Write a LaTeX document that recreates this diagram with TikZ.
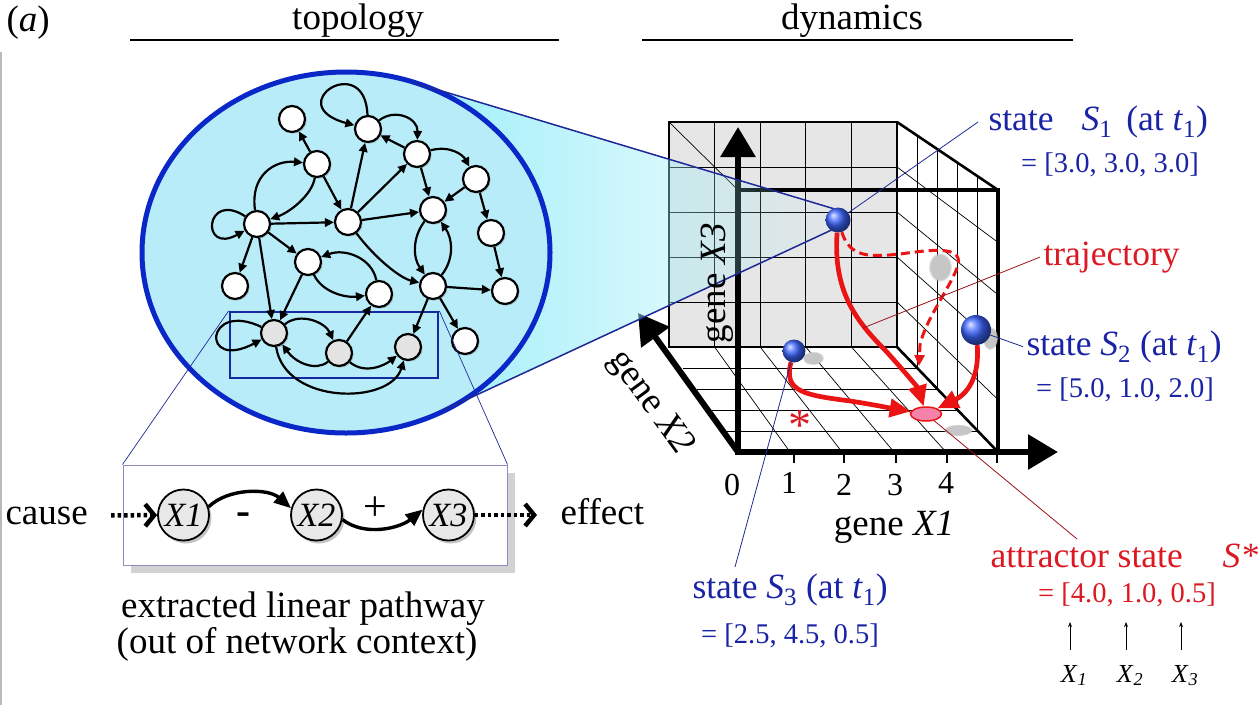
\documentclass[tikz,border=0pt]{standalone}
\usepackage{fontspec}
\setmainfont{Liberation Serif}
\usetikzlibrary{arrows.meta,shadows,fadings,shapes.geometric}
\definecolor{netfill}{RGB}{184,236,248}
\definecolor{netblue}{RGB}{10,40,200}
\definecolor{netrect}{RGB}{20,40,160}
\definecolor{conel}{RGB}{30,40,150}
\definecolor{lblue}{RGB}{25,35,165}
\definecolor{lred}{RGB}{220,25,35}
\definecolor{trajc}{RGB}{235,20,20}
\definecolor{ballc}{RGB}{60,100,255}
\definecolor{boxc}{RGB}{140,140,190}
\definecolor{backc}{RGB}{230,230,230}
\definecolor{attc}{RGB}{245,130,170}
\tikzfading[name=conefade, left color=transparent!0, right color=transparent!100]
\tikzset{axtip/.tip={Triangle[length=30pt,width=34pt]}}
\newcommand\fmain{\fontsize{37}{44}\selectfont}
\newcommand\fdig{\fontsize{32}{38}\selectfont}
\newcommand\flab{\fontsize{35.5}{40}\selectfont}
\newcommand\fvec{\fontsize{28.5}{32}\selectfont}
\newcommand\fxs{\fontsize{26}{30}\selectfont}
\newcommand\fnod{\fontsize{34}{38}\selectfont\itshape}
\newcommand\fsign{\fontsize{42}{46}\selectfont}
\begin{document}
\begin{tikzpicture}[x=1pt,y=-1pt,
  net/.style={circle,draw,line width=2.2pt,fill=white,minimum size=26pt,inner sep=0pt,
    drop shadow={shadow xshift=1.6pt,shadow yshift=-1.6pt,opacity=.35}},
  gnet/.style={net,fill=gray!22},
  edge/.style={line width=2.2pt,-{Triangle[length=9pt,width=8.5pt]}},
  pnode/.style={circle,draw,line width=1.8pt,fill=gray!18,minimum size=51pt,inner sep=0pt,font=\fnod,
    drop shadow={shadow xshift=2.5pt,shadow yshift=-3pt,opacity=.45}},
  pedge/.style={line width=3.4pt,-{Triangle[length=17pt,width=14pt]}},
  dotarr/.style={line width=4.5pt,dash pattern=on 3.5pt off 3pt,-{Straight Barb[length=9pt,width=22pt,line width=4.5pt]}},
  gridl/.style={line width=0.7pt},
  cubee/.style={line width=2.6pt},
  axisl/.style={line width=6pt},
  ballnode/.style={circle,shading=ball,ball color=ballc,minimum size=#1,inner sep=0pt},
  traj/.style={draw=trajc,line width=4.7pt,-{Triangle[length=21pt,width=18pt]}},
  trajd/.style={draw=trajc,line width=3pt,dash pattern=on 9pt off 5pt,-{Triangle[length=11pt,width=10pt]}},
  leadb/.style={draw=conel,line width=0.8pt},
  leadr/.style={draw=lred!70!black,line width=0.8pt},
  blob/.style={fill=gray!45,path fading=circle with fuzzy edge 20 percent},
  bluetext/.style={font=\flab,text=lblue,anchor=base west},
  redtext/.style={font=\flab,text=lred,anchor=base west},
  vecb/.style={font=\fvec,text=lblue,anchor=base},
  vecr/.style={font=\fvec,text=lred,anchor=base}
]
\useasboundingbox (0,0) rectangle (1258,705);
\fill[white] (0,0) rectangle (1258,705);

% ---------- header ----------
\node[font=\fmain,anchor=base west] (alab) at (3,31) {(\textit{a})};
\node[font=\fmain,anchor=base] (ttop) at (358,29) {topology};
\node[font=\fmain,anchor=base] (tdyn) at (852,29) {dynamics};
\draw[line width=2.4pt] (130,40) -- (559,40);
\draw[line width=2.4pt] (642,40) -- (1073,40);
\draw[gray!55,line width=1.4pt] (1,52) -- (1,705);

% ---------- cube ----------
\fill[backc] (669,122) rectangle (897,347);
\foreach \i in {1,...,4}{
  \draw[gridl] ({669+45.6*\i},122) -- ({669+45.6*\i},347);
  \draw[gridl] (669,{122+45*\i}) -- (897,{122+45*\i});
  \draw[gridl] ({897+20.2*\i},{122+13.6*\i}) -- ({897+20.2*\i},{347+21*\i});
  \draw[gridl] (897,{122+45*\i}) -- (998,{190+52.4*\i});
  \draw[gridl] ({669+13.8*\i},{347+21*\i}) -- ({897+20.2*\i},{347+21*\i});
  \draw[gridl] ({669+45.6*\i},347) -- ({738+52*\i},452);
}
\draw[gridl] (669,122) -- (738,190);
\draw[cubee] (669,122) rectangle (897,347);
\draw[cubee] (897,122) -- (998,190);
\draw[cubee] (897,347) -- (998,452);
\draw[line width=3.2pt] (738,190) -- (998,190) -- (998,452);

% shadows of the states
\fill[blob] (813,358) ellipse [x radius=11,y radius=7];
\fill[blob] (940,267) ellipse [x radius=12,y radius=15];
\fill[blob] (990,338) ellipse [x radius=8,y radius=12];
\fill[blob] (958,430) ellipse [x radius=15,y radius=6];

% axes
\draw[axisl,axtip-axtip] (738,127) -- (738,452) -- (1058,452);
\draw[axisl,line cap=round,-axtip] (738,452) -- (638,313);
\foreach \x in {794,844,896,947,997} \draw[line width=2pt] (\x,452) -- (\x,463);

% ---------- cone ----------
\coordinate (Tup) at (412,82);
\coordinate (Tlo) at (442,411);
\coordinate (Aup) at (838,210);
\coordinate (Alo) at (838,227);
\fill[netfill!85!cyan,path fading=conefade] (Tup) -- (Aup) -- (Alo) -- (Tlo) -- cycle;

% ---------- network ----------
\fill[netfill] (346,252.5) ellipse [x radius=204,y radius=180.5];
\node[draw=netrect,line width=2.5pt,minimum width=208pt,minimum height=66pt,inner sep=0pt] (sel) at (334,345) {};

\node[net] (n1) at (292,119) {};
\node[net] (n2) at (368,129) {};
\node[net] (n3) at (417,154) {};
\node[net] (n4) at (317,164) {};
\node[net] (n5) at (476,179) {};
\node[net] (n6) at (257,224) {};
\node[net] (n7) at (348,222) {};
\node[net] (n8) at (433,210) {};
\node[net] (n9) at (491,233) {};
\node[net] (n10) at (308,262) {};
\node[net] (n11) at (235,286) {};
\node[net] (n12) at (379,294) {};
\node[net] (n13) at (433,286) {};
\node[net] (n14) at (505,291) {};
\node[net] (n15) at (465,341) {};
\node[gnet] (g1) at (274,333) {};
\node[gnet] (g2) at (339,353) {};
\node[gnet] (g3) at (408,347) {};

\draw[edge] (n2) .. controls (365,50) and (280,105) .. (n2);
\draw[edge] (n2) .. controls (395,108) and (418,118) .. (n3);
\draw[edge] (n3) -- (n2);
\draw[edge] (n4) -- (n1);
\draw[edge] (n6) .. controls (250,175) and (275,160) .. (n4);
\draw[edge] (n4) .. controls (312,195) and (290,212) .. (n6);
\draw[edge] (n4) -- (n7);
\draw[edge] (n6) .. controls (205,190) and (200,255) .. (n6);
\draw[edge] (n6) -- (n7);
\draw[edge] (n7) -- (n2);
\draw[edge] (n7) -- (n3);
\draw[edge] (n7) -- (n8);
\draw[edge] (n3) .. controls (450,145) and (463,155) .. (n5);
\draw[edge] (n3) -- (n8);
\draw[edge] (n5) -- (n8);
\draw[edge] (n5) -- (n9);
\draw[edge] (n9) -- (n14);
\draw[edge] (n8) .. controls (412,238) and (413,258) .. (n13);
\draw[edge] (n13) .. controls (455,258) and (452,238) .. (n8);
\draw[edge] (n7) .. controls (375,258) and (400,278) .. (n13);
\draw[edge] (n13) -- (n14);
\draw[edge] (n13) -- (n15);
\draw[edge] (n13) -- (g3);
\draw[edge] (n6) -- (n10);
\draw[edge] (n6) -- (n11);
\draw[edge] (n6) -- (g1);
\draw[edge] (n10) -- (g1);
\draw[edge] (n10) .. controls (322,292) and (345,298) .. (n12);
\draw[edge] (n12) .. controls (372,258) and (345,248) .. (n10);
\draw[edge] (g2) -- (n12);
\draw[edge] (g1) .. controls (205,300) and (200,372) .. (g1);
\draw[edge] (g1) .. controls (300,312) and (325,322) .. (g2);
\draw[edge] (g2) .. controls (315,372) and (295,362) .. (g1);
\draw[edge] (g2) .. controls (365,375) and (385,365) .. (g3);
\draw[edge] (g1) .. controls (285,405) and (390,405) .. (g3);

\draw[netblue,line width=5pt] (346,252.5) ellipse [x radius=204,y radius=180.5];
\draw[conel,line width=1.5pt] (Tup) -- (Aup);
\draw[conel,line width=1.5pt] (Tlo) -- (Alo);

% ---------- pathway ----------
\node[draw=boxc,line width=1pt,fill=white,minimum width=384pt,minimum height=100pt,inner sep=0pt,
  drop shadow={shadow xshift=8pt,shadow yshift=-8pt,opacity=.35}] (pbox) at (315,515) {};
\draw[conel,line width=0.7pt] (sel.north west) -- (pbox.north west);
\draw[conel,line width=0.7pt] (sel.north east) -- (pbox.north east);
\node[pnode] (X1) at (183.5,515) {X1};
\node[pnode] (X2) at (316.5,515) {X2};
\node[pnode] (X3) at (448.5,515) {X3};
\node[font=\fmain,anchor=base west] (cause) at (2,524) {cause};
\node[font=\fmain,anchor=base west] (effect) at (557,524) {effect};
\draw[dotarr,shorten <=20pt] (cause.east) -- (X1);
\draw[dotarr,shorten >=20pt] (X3) -- (X3 -| effect.west);
\draw[pedge] (X1.18) .. controls (228,488) and (268,488) .. (X2.165);
\draw[pedge] (X2.-10) .. controls (365,537) and (400,528) .. (X3.168);
\node[font=\fsign\bfseries] (minus) at (243,519) {-};
\node[font=\fsign] (plus) at (375,509) {+};
\node[font=\fmain,anchor=base] (cap1) at (303,617) {extracted linear pathway};
\node[font=\fmain,anchor=base] (cap2) at (297,653) {(out of network context)};

% ---------- axis labels ----------
\node[font=\fmain,rotate=90] (gx3) at (717,283) {gene \textit{X3}};
\node[font=\fmain,rotate=-54] (gx2) at (650,403) {gene \textit{X2}};
\node[font=\fmain,anchor=base] (gx1) at (894,535) {gene \textit{X1}};
\node[font=\fdig] (d0) at (732,485) {0};
\node[font=\fdig] (d1) at (789,483) {1};
\node[font=\fdig] (d2) at (844,485) {2};
\node[font=\fdig] (d3) at (895,485) {3};
\node[font=\fdig] (d4) at (946,483) {4};

% ---------- states and trajectories ----------
\node[ellipse,draw=trajc,line width=1.5pt,fill=attc,minimum width=31pt,minimum height=14pt,inner sep=0pt] (Astar) at (926,414) {};
\node[ballnode=25pt] (S1) at (838,220) {};
\node[ballnode=30pt] (S2) at (976,330) {};
\node[ballnode=23pt] (S3) at (794,351) {};
\node[font=\fontsize{46}{50}\selectfont,text=lred] (ast) at (800,425) {*};

\coordinate (dend) at (919,366);
\draw[trajd] (S1) .. controls (850,258) and (870,257) .. (900,254) .. controls (930,250) and (963,245) .. (958,265) .. controls (952,285) and (925,320) .. (920,345) -- (dend);
\draw[traj] (S1) .. controls (833,290) and (855,320) .. (885,350) .. controls (905,372) and (918,388) .. (Astar);
\draw[traj] (S2) .. controls (980,380) and (965,395) .. (Astar);
\draw[traj] (S3) .. controls (783,392) and (805,395) .. (850,401) .. controls (870,404) and (890,408) .. (Astar);

% ---------- labels ----------
\node[bluetext] (lS1) at (985,130) {state\hspace{28pt}\textit{S}\textsubscript{1}\hspace{14pt}(at \textit{t}\textsubscript{1})};
\node[vecb] (vS1) at (1110,172) {= [3.0, 3.0, 3.0]};
\node[redtext] (ltraj) at (1040,265) {trajectory};
\node[bluetext] (lS2) at (1023,355) {state \textit{S}\textsubscript{2} (at \textit{t}\textsubscript{1})};
\node[vecb] (vS2) at (1125,397) {= [5.0, 1.0, 2.0]};
\node[bluetext] (lS3) at (689,598) {state \textit{S}\textsubscript{3} (at \textit{t}\textsubscript{1})};
\node[vecb] (vS3) at (790,643) {= [2.5, 4.5, 0.5]};
\node[redtext] (lat) at (987,567) {attractor state};
\node[redtext] (lst) at (1219,567) {\textit{S*}};
\node[vecr] (vat) at (1127,602) {= [4.0, 1.0, 0.5]};

\coordinate (l1) at (978,122);
\coordinate (tr1) at (863,328);
\coordinate (l3) at (735,567);
\coordinate (la) at (1077,539);
\draw[leadb] (S1) -- (l1);
\draw[leadr] (ltraj.west) -- (tr1);
\draw[leadb] (S2) -- (lS2.west);
\draw[leadb] (S3) -- (l3);
\draw[leadr] (Astar) -- (la);

\foreach \x/\n in {1070/1,1126/2,1181/3}{
  \coordinate (xa\n) at (\x,650);
  \coordinate (xb\n) at (\x,622);
  \draw[line width=0.8pt,-{Stealth[length=5pt,width=4pt]}] (xa\n) -- (xb\n);
  \node[font=\fxs,anchor=base] (xl\n) at ({\x+4},682) {\textit{X}\textsubscript{\textit{\n}}};
}
\end{tikzpicture}
\end{document}
